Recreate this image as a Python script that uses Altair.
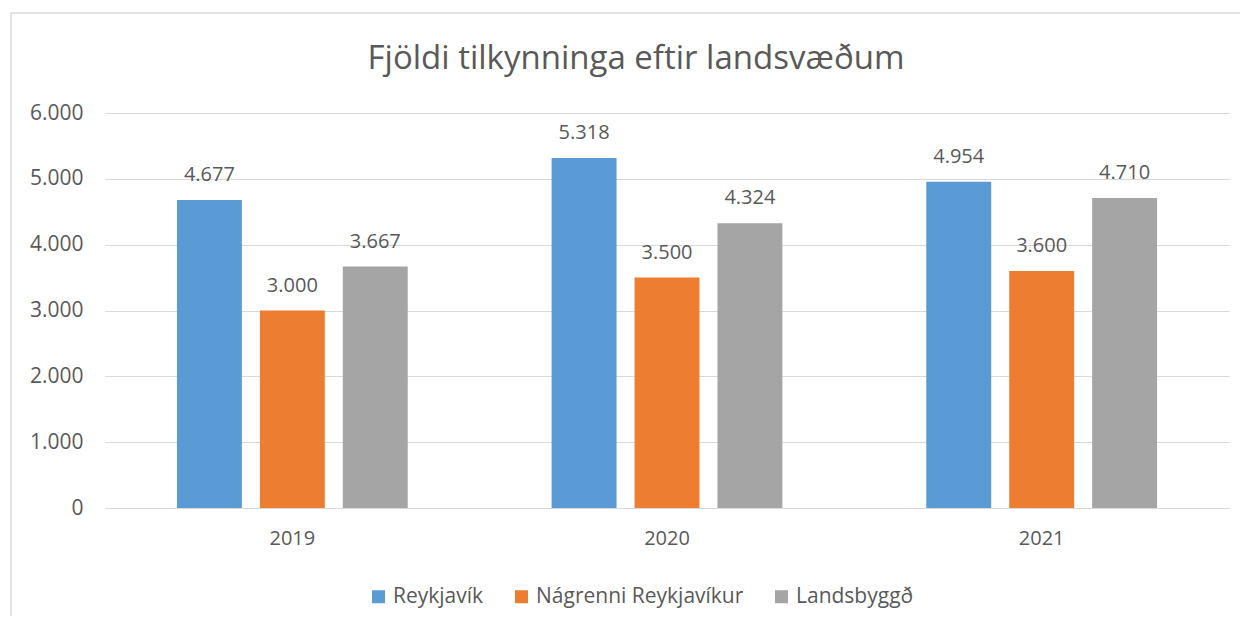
import altair as alt
import pandas as pd

years = ["2019", "2020", "2021"]
series = ["Reykjavík", "Nágrenni Reykjavíkur", "Landsbyggð"]
reykjavik = [4677, 5318, 4954]
nagrenni = [3000, 3500, 3600]
landsbyggd = [3667, 4324, 4710]
colors = ["#5B9BD5", "#ED7D31", "#A5A5A5"]

rows = []
for i, y in enumerate(years):
    for s, vals in zip(series, [reykjavik, nagrenni, landsbyggd]):
        v = vals[i]
        rows.append({"year": y, "series": s, "value": v,
                     "label": f"{v:,}".replace(",", ".")})
df = pd.DataFrame(rows)

FONT = "Open Sans"
TXT = "#595959"
GRID = "#D9D9D9"
W, H = 1124, 395

x = alt.X("year:N", title=None, sort=years,
          scale=alt.Scale(paddingInner=0.384, paddingOuter=0.192),
          axis=alt.Axis(labelAngle=0, labelFontSize=20, labelColor=TXT, labelFont=FONT,
                        ticks=False, domainColor=GRID, domainWidth=1, labelPadding=20))
xo = alt.XOffset("series:N", sort=series,
                 scale=alt.Scale(paddingInner=0.217, paddingOuter=0))
y = alt.Y("value:Q", title=None,
          scale=alt.Scale(domain=[0, 6000], nice=False),
          axis=alt.Axis(values=[0, 1000, 2000, 3000, 4000, 5000, 6000],
                        labelExpr="replace(format(datum.value, ','), ',', '.')",
                        labelFontSize=21, labelColor=TXT, labelFont=FONT,
                        ticks=False, domain=False, gridColor=GRID, gridWidth=1,
                        labelPadding=22))

base = alt.Chart(df)

bars = base.mark_bar().encode(
    x=x, xOffset=xo, y=y,
    color=alt.Color("series:N", sort=series,
                    scale=alt.Scale(domain=series, range=colors),
                    legend=alt.Legend(title=None, orient="none", direction="horizontal",
                                      legendX=263, legendY=473,
                                      symbolType="square", symbolSize=169,
                                      symbolStrokeWidth=0, labelLimit=0,
                                      labelFontSize=21, labelColor=TXT, labelFont=FONT,
                                      labelOffset=4, columnPadding=27)),
)

labels = base.mark_text(baseline="alphabetic", dy=-19, fontSize=20, color=TXT, font=FONT).encode(
    x=x, xOffset=xo, y=y, text="label:N"
)

frame = alt.Chart(pd.DataFrame({"a": [0]})).mark_rect(
    fill=None, stroke=GRID, strokeWidth=1.5
).encode(
    x=alt.value(-94), x2=alt.value(W + 60),
    y=alt.value(-100), y2=alt.value(H + 200)
)

chart = alt.layer(frame, bars, labels).properties(
    width=W, height=H,
    title=alt.Title("Fjöldi tilkynninga eftir landsvæðum", fontSize=33, font=FONT,
                    color=TXT, fontWeight="normal", offset=0, dy=90, dx=-31,
                    baseline="alphabetic", anchor="middle"),
    autosize=alt.AutoSizeParams(type="none"),
    padding={"left": 97, "top": 105, "right": 11, "bottom": 108},
).configure(background="white", view=alt.ViewConfig(stroke=None))

chart.save("out.html", embed_options={"renderer": "svg", "actions": False})
